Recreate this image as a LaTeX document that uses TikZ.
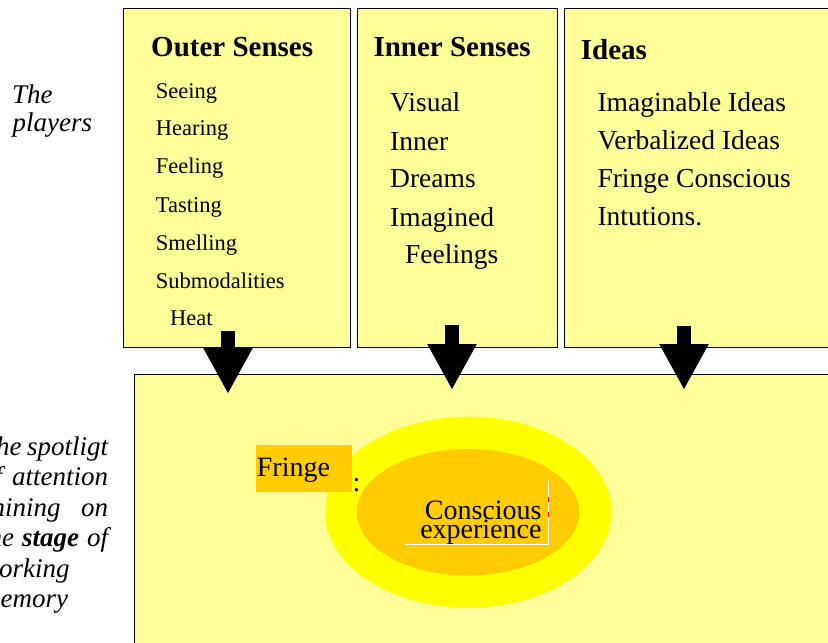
\documentclass[tikz,border=0pt]{standalone}
\usepackage{fontspec}
\setmainfont{Liberation Serif}
\usetikzlibrary{arrows.meta}
\definecolor{panelfill}{HTML}{FFFF99}
\definecolor{halo}{HTML}{FFFF00}
\definecolor{core}{HTML}{FFCC00}
\tikzset{
  panel/.style={draw=black, line width=1.2pt, fill=panelfill, rectangle, anchor=north west, inner sep=0pt},
  hdr/.style={font=\fontsize{29}{34}\selectfont\bfseries, anchor=base west, inner sep=0pt},
  itemS/.style={font=\fontsize{22.5}{26}\selectfont, anchor=base west, inner sep=0pt},
  itemL/.style={font=\fontsize{27.5}{32}\selectfont, anchor=base west, inner sep=0pt},
  side/.style={font=\fontsize{27}{30}\selectfont\itshape, anchor=base west, inner sep=0pt},
  label/.style={font=\fontsize{28}{32}\selectfont, inner sep=0pt},
  bigarrow/.style={line width=14pt, black, -{Triangle[width=46pt,length=46pt]}},
}
\begin{document}
\begin{tikzpicture}[x=1pt, y=-1pt]
\useasboundingbox (0,0) rectangle (828,643);
\clip (0,0) rectangle (828,643);
\fill[white] (0,0) rectangle (828,643);

% the three source panels and the stage
\node[panel, minimum width=227pt, minimum height=339pt] (outer) at (123,8) {};
\node[panel, minimum width=200pt, minimum height=339pt] (inner) at (357,8) {};
\node[panel, minimum width=280pt, minimum height=339pt] (ideas) at (564,8) {};
\node[panel, minimum width=720pt, minimum height=300pt] (stage) at (134,374) {};

% Outer Senses
\node[hdr] (h1) at (151,56.7) {Outer Senses};
\node[itemS] (o1) at (155.7,98) {Seeing};
\node[itemS] (o2) at (155.7,135) {Hearing};
\node[itemS] (o3) at (155.7,173) {Feeling};
\node[itemS] (o4) at (155.7,212.7) {Tasting};
\node[itemS] (o5) at (155.7,250) {Smelling};
\node[itemS] (o6) at (155.7,288) {Submodalities};
\node[itemS] (o7) at (170,325.7) {Heat};

% Inner Senses
\node[hdr] (h2) at (373.3,56.7) {Inner Senses};
\node[itemL] (i1) at (390,111.7) {Visual};
\node[itemL] (i2) at (390,150) {Inner};
\node[itemL] (i3) at (390,187.7) {Dreams};
\node[itemL] (i4) at (390,226) {Imagined};
\node[itemL] (i5) at (405,263.3) {Feelings};

% Ideas
\node[hdr] (h3) at (580.7,59.3) {Ideas};
\node[itemL] (d1) at (597.3,111) {Imaginable Ideas};
\node[itemL] (d2) at (597.3,149.3) {Verbalized Ideas};
\node[itemL] (d3) at (597.3,187.3) {Fringe Conscious};
\node[itemL] (d4) at (597.3,225) {Intutions.};

% side captions
\node[side] (p1) at (12,103) {The};
\node[side] (p2) at (12.5,131.7) {players};

\node[side] (s1) at (-19,455) {\makebox[127pt][s]{The spotligt}};
\node[side] (s2) at (-19,485.5) {\makebox[127pt][s]{of attention}};
\node[side] (s3) at (-19,516) {\makebox[127pt][s]{shining on}};
\node[side] (s4) at (-19,546.5) {\makebox[127pt][s]{the \textbf{stage} of}};
\node[side] (s5) at (-19,577) {working};
\node[side] (s6) at (-19,607.5) {memory};

% spotlight
\fill[halo] (468.3,512.2) ellipse [x radius=143.3, y radius=95.5];
\fill[core] (468,512.3) ellipse [x radius=111.3, y radius=63.3];
\node[fill=core, minimum width=96pt, minimum height=47pt, anchor=north west, inner sep=0pt] (fringebox) at (256,445) {};
\node[label, anchor=base west] (fringe) at (256.7,476.7) {Fringe};
\node[label, anchor=base west] (colon) at (352.5,491) {:};
\node[label, anchor=base east] (conscious) at (541.7,519) {Conscious};
\node[label, anchor=base east] (experience) at (541.7,538) {experience};

% text-frame marks around the label
\coordinate (fa) at (405,544.3);
\coordinate (fb) at (548.3,544.3);
\coordinate (fc) at (548.3,481);
\draw[white, line width=1pt] (fa) -- (fb) -- (fc);
\draw[red, line width=1pt] (548.3,497) -- (548.3,502) (548.3,512) -- (548.3,517);

% block arrows from the panels onto the stage
\coordinate (a1s) at (228,331);
\coordinate (a1e) at (228,394);
\coordinate (a2s) at (452,325);
\coordinate (a2e) at (452,390);
\coordinate (a3s) at (684,326);
\coordinate (a3e) at (684,390);
\draw[bigarrow] (a1s) -- (a1e);
\draw[bigarrow] (a2s) -- (a2e);
\draw[bigarrow] (a3s) -- (a3e);
\end{tikzpicture}
\end{document}
